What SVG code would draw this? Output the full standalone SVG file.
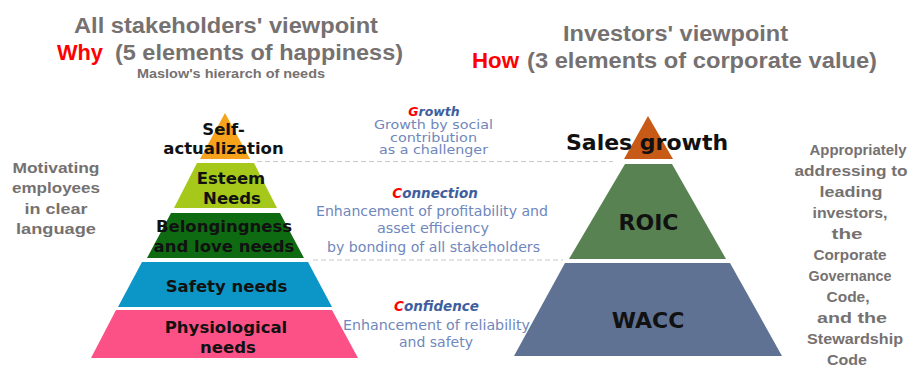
<svg xmlns="http://www.w3.org/2000/svg" width="917" height="367" viewBox="0 0 917 367">
<style>
.title{font-family:"Liberation Sans",Arial,sans-serif;font-weight:bold;font-size:22px;fill:#767171}
.red{fill:#FF0000}
.sub{font-family:"Liberation Sans",Arial,sans-serif;font-weight:bold;font-size:12px;fill:#767171}
.side{font-family:"Liberation Sans",Arial,sans-serif;font-weight:bold;font-size:15px;fill:#767171;text-anchor:middle}
.lbl{font-family:"DejaVu Sans",sans-serif;font-weight:bold;font-size:16.5px;fill:#111;text-anchor:middle}
.big{font-family:"DejaVu Sans",sans-serif;font-weight:bold;font-size:22px;fill:#111;text-anchor:middle}
.head{font-family:"DejaVu Sans",sans-serif;font-weight:bold;font-style:oblique;font-size:13.5px;fill:#3E5E9E;text-anchor:middle}
.desc{font-family:"DejaVu Sans",sans-serif;font-size:13.5px;fill:#6F87BC;text-anchor:middle}
.sm{font-size:12.5px}
.dash{stroke:#C8C8C8;stroke-width:1;stroke-dasharray:5 3;fill:none}
</style>

<g id="title-left">
<text class="title" x="74" y="33" textLength="304" lengthAdjust="spacingAndGlyphs">All stakeholders' viewpoint</text>
<text class="title red" x="57" y="60" textLength="46" lengthAdjust="spacingAndGlyphs">Why</text>
<text class="title" x="115" y="60" textLength="288" lengthAdjust="spacingAndGlyphs">(5 elements of happiness)</text>
<text class="sub" x="137" y="78" textLength="188" lengthAdjust="spacingAndGlyphs">Maslow's hierarch of needs</text>
</g>

<g id="title-right">
<text class="title" x="563" y="41" textLength="225" lengthAdjust="spacingAndGlyphs">Investors' viewpoint</text>
<text class="title red" x="472" y="68" textLength="47" lengthAdjust="spacingAndGlyphs">How</text>
<text class="title" x="527" y="68" textLength="350" lengthAdjust="spacingAndGlyphs">(3 elements of corporate value)</text>
</g>

<g id="side-left">
<text class="side" x="56" y="173" textLength="87" lengthAdjust="spacingAndGlyphs">Motivating</text>
<text class="side" x="56" y="193" textLength="88" lengthAdjust="spacingAndGlyphs">employees</text>
<text class="side" x="56" y="214" textLength="63" lengthAdjust="spacingAndGlyphs">in clear</text>
<text class="side" x="56" y="234" textLength="80" lengthAdjust="spacingAndGlyphs">language</text>
</g>

<g id="side-right">
<text class="side" x="858" y="155" textLength="97" lengthAdjust="spacingAndGlyphs">Appropriately</text>
<text class="side" x="851" y="176" textLength="113" lengthAdjust="spacingAndGlyphs">addressing to</text>
<text class="side" x="851" y="197" textLength="63" lengthAdjust="spacingAndGlyphs">leading</text>
<text class="side" x="850" y="218" textLength="75" lengthAdjust="spacingAndGlyphs">investors,</text>
<text class="side" x="847" y="239" textLength="31" lengthAdjust="spacingAndGlyphs">the</text>
<text class="side" x="850" y="260" textLength="73" lengthAdjust="spacingAndGlyphs">Corporate</text>
<text class="side" x="850" y="281" textLength="83" lengthAdjust="spacingAndGlyphs">Governance</text>
<text class="side" x="848" y="302" textLength="43" lengthAdjust="spacingAndGlyphs">Code,</text>
<text class="side" x="852" y="323" textLength="70" lengthAdjust="spacingAndGlyphs">and the</text>
<text class="side" x="855" y="344" textLength="96" lengthAdjust="spacingAndGlyphs">Stewardship</text>
<text class="side" x="847" y="365" textLength="40" lengthAdjust="spacingAndGlyphs">Code</text>
</g>

<g id="connectors">
<line class="dash" x1="257" y1="161.5" x2="613" y2="161.5"/>
<line class="dash" x1="313" y1="260" x2="563" y2="260"/>
</g>

<g id="self-actualization">
<polygon points="225,113 250,159 200,159" fill="#F7A21B"/>
<text class="lbl" x="223.5" y="135">Self-</text>
<text class="lbl" x="223.5" y="154">actualization</text>
</g>
<g id="esteem">
<polygon points="197,163 254,163 277,208 174,208" fill="#A5C81B"/>
<text class="lbl" x="231" y="184">Esteem</text>
<text class="lbl" x="232" y="204">Needs</text>
</g>
<g id="belonging">
<polygon points="171,213 280,213 304,258 147,258" fill="#0F6B12"/>
<text class="lbl" x="224" y="232">Belongingness</text>
<text class="lbl" x="224" y="252">and love needs</text>
</g>
<g id="safety">
<polygon points="142,262 308,262 332,307 118,307" fill="#0C96C8"/>
<text class="lbl" x="226.5" y="292">Safety needs</text>
</g>
<g id="physiological">
<polygon points="116,310 332,310 358,358 91,358" fill="#FB5186"/>
<text class="lbl" x="226" y="333">Physiological</text>
<text class="lbl" x="228" y="353">needs</text>
</g>

<g id="growth">
<text class="head sm" x="434" y="116"><tspan class="red">G</tspan>rowth</text>
<text class="desc sm" x="433.5" y="129" textLength="119" lengthAdjust="spacingAndGlyphs">Growth by social</text>
<text class="desc sm" x="433.5" y="141.5" textLength="87" lengthAdjust="spacingAndGlyphs">contribution</text>
<text class="desc sm" x="433.5" y="154" textLength="109" lengthAdjust="spacingAndGlyphs">as a challenger</text>
</g>
<g id="connection">
<text class="head" x="435" y="198"><tspan class="red">C</tspan>onnection</text>
<text class="desc" x="432" y="216" textLength="232" lengthAdjust="spacingAndGlyphs">Enhancement of profitability and</text>
<text class="desc" x="433" y="233" textLength="112" lengthAdjust="spacingAndGlyphs">asset efficiency</text>
<text class="desc" x="433.5" y="252" textLength="213" lengthAdjust="spacingAndGlyphs">by bonding of all stakeholders</text>
</g>
<g id="confidence">
<text class="head" x="436.5" y="311"><tspan class="red">C</tspan>onfidence</text>
<text class="desc" x="436.5" y="330" textLength="187" lengthAdjust="spacingAndGlyphs">Enhancement of reliability</text>
<text class="desc" x="436" y="347" textLength="74" lengthAdjust="spacingAndGlyphs">and safety</text>
</g>

<g id="sales-growth">
<polygon points="648,116 673,159 624,159" fill="#C65A16"/>
<text class="big" x="647" y="150">Sales growth</text>
</g>
<g id="roic">
<polygon points="625,164 672,164 726,259 569,259" fill="#588251"/>
<text class="big" x="648.5" y="230">ROIC</text>
</g>
<g id="wacc">
<polygon points="565,263 730,263 782,356 514,356" fill="#5F7293"/>
<text class="big" x="648" y="328">WACC</text>
</g>
</svg>
